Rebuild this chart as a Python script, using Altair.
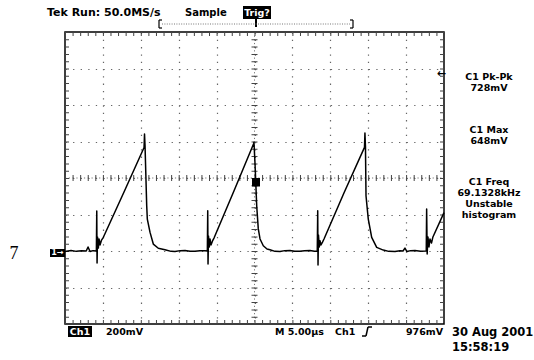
import altair as alt
import pandas as pd

# ---- waveform (time in microseconds, voltage in mV relative to ground marker) ----
t_us = [
    -25.0, -24.2, -23.5, -22.8, -22.2, -21.96, -21.7, -21.3, -20.86,
    -20.81, -20.77, -20.71, -20.60, -20.51, -20.38, -20.18, -19.94,
    -17.2, -14.57, -14.51, -14.44, -14.22, -14.14, -13.78, -13.35, -12.69, -11.81,
    -11.0, -10.49, -9.8, -9.17, -8.5, -7.85, -7.2, -6.53, -6.22,
    -6.17, -6.13, -6.07, -5.96, -5.87, -5.74, -5.54, -5.34,
    -2.7, -0.13, -0.07, 0.07, 0.16, 0.29, 0.50, 0.73, 1.16, 1.65, 2.04,
    2.7, 3.36, 4.0, 4.68, 5.3, 6.0, 6.6, 7.32, 7.9, 8.28,
    8.34, 8.38, 8.44, 8.55, 8.64, 8.77, 8.97, 9.17,
    11.8, 14.51, 14.57, 14.64, 14.71, 15.01, 15.46, 16.12, 16.99,
    17.7, 18.53, 19.2, 19.59, 19.85, 20.11, 20.6, 21.17, 21.9, 22.66,
    22.71, 22.78, 22.88, 23.02, 23.15, 23.35, 23.54, 25.0,
]
v_mv = [
    -3, 3, -2, 2, 0, 22, -3, 2, 0,
    219, -66, 77, 16, 66, 33, 60, 75,
    325, 567, 641, 575, 248, 175, 102, 38, 15, 7,
    -2, -3, 2, 3, -1, -2, 2, 1, 0,
    221, -71, 82, 22, 66, 33, 55, 71,
    330, 586, 596, 477, 384, 248, 121, 66, 29, 11, 7,
    -2, -3, 2, 3, -1, -2, 1, 3, -1, 0,
    221, -77, 88, 22, 56, 33, 49, 66,
    318, 568, 647, 570, 303, 175, 75, 20, 5,
    -2, -3, 1, 0, 16, -3, 2, 3, -1, 0,
    230, -16, 77, 22, 66, 44, 77, 210,
]

grid_t = [-20, -15, -10, -5, 0, 5, 10, 15, 20]
grid_v = [-200, 0, 200, 400, 600, 800, 1000]

header_run = "Tek Run: 50.0MS/s"
header_mode = "Sample"
header_trig = "Trig?"
meas_lines = ["C1 Pk-Pk", "728mV", "C1 Max", "648mV", "C1 Freq", "69.1328kHz", "Unstable", "histogram"]
foot_ch = "Ch1"
foot_scale = "200mV"
foot_time = "M 5.00µs"
foot_src = "Ch1"
foot_level = "976mV"
foot_date = "30 Aug 2001"
foot_clock = "15:58:19"
side_label = "7"
ground_label = "1→"
level_arrow = "←"

# ---- layout ----
W, H = 379, 292
OX, OY = 65, 32
FONT = "DejaVu Sans"
one = pd.DataFrame({"k": [0]})


def px(x):
    return x - OX


def py(y):
    return y - OY


def label(text, x, y, size=11, weight="bold", align="left", color="black", font=FONT):
    return alt.Chart(pd.DataFrame({"label": [text]})).mark_text(
        align=align, baseline="middle", fontSize=size, fontWeight=weight,
        font=font, color=color
    ).encode(x=alt.value(px(x)), y=alt.value(py(y)), text="label:N")


def box(x1, y1, x2, y2, color="black"):
    return alt.Chart(one).mark_rect(color=color).encode(
        x=alt.value(px(x1)), x2=alt.value(px(x2)),
        y=alt.value(py(y1)), y2=alt.value(py(y2)))


def seg(x1, y1, x2, y2, color="black", width=1.0, dash=None):
    kw = dict(color=color, strokeWidth=width)
    if dash is not None:
        kw["strokeDash"] = dash
    return alt.Chart(one).mark_rule(**kw).encode(
        x=alt.value(px(x1)), x2=alt.value(px(x2)),
        y=alt.value(py(y1)), y2=alt.value(py(y2)))


trace = alt.Chart(pd.DataFrame({"t": t_us, "v": v_mv})).mark_line(
    color="black", strokeWidth=1.5, strokeJoin="round"
).encode(
    x=alt.X("t:Q", scale=alt.Scale(domain=[-25, 25], nice=False, zero=False),
            axis=alt.Axis(values=grid_t, grid=True, gridDash=[1.3, 6.0], gridColor="#666",
                          gridWidth=1.2, labels=False, ticks=False, domain=False, title=None)),
    y=alt.Y("v:Q", scale=alt.Scale(domain=[-400, 1200], nice=False, zero=False),
            axis=alt.Axis(values=grid_v, grid=True, gridDash=[1.3, 6.28], gridColor="#666",
                          gridWidth=1.2, labels=False, ticks=False, domain=False, title=None)),
)

cx = OX + W / 2
cy = OY + H / 2
layers = [
    # center lines (finer dotted) and their minor ticks
    seg(cx, OY, cx, OY + H, color="#777", width=1, dash=[1.2, 2.45]),
    seg(OX, cy, OX + W, cy, color="#777", width=1, dash=[1.2, 2.59]),
    seg(cx, OY, cx, OY + H, color="#444", width=6, dash=[1, 6.3]),
    seg(OX, cy, OX + W, cy, color="#444", width=6, dash=[1, 6.58]),
    # frame minor ticks
    seg(OX + 2, OY, OX + 2, OY + H, color="#444", width=4, dash=[1, 6.3]),
    seg(OX + W - 2, OY, OX + W - 2, OY + H, color="#444", width=4, dash=[1, 6.3]),
    seg(OX, OY + 2, OX + W, OY + 2, color="#444", width=4, dash=[1, 6.58]),
    seg(OX, OY + H - 2, OX + W, OY + H - 2, color="#444", width=4, dash=[1, 6.58]),
    trace,
    # trigger point marker
    box(252, 178, 260, 186.5),
    # header
    label(header_run, 47, 12.5, size=11),
    label(header_mode, 185, 12.5, size=10),
    box(243, 6, 271, 19),
    label(header_trig, 257, 12.8, size=9.5, align="center", color="white"),
    seg(256, 19, 256, 27, width=2),
    # record-position bracket
    seg(162, 24, 350, 24, color="#777", width=1, dash=[1, 1.4]),
    seg(159, 20, 159, 28, width=1.2),
    seg(159, 20, 162, 20, width=1.2),
    seg(159, 28, 162, 28, width=1.2),
    seg(353, 20, 353, 28, width=1.2),
    seg(350, 20, 353, 20, width=1.2),
    seg(350, 28, 353, 28, width=1.2),
    # level arrow at right edge of graticule
    label(level_arrow, 446, 74, size=11, align="right"),
    # ground marker and side label
    box(50, 249, 65, 257),
    label(ground_label, 57.5, 253, size=8, align="center", color="white"),
    label(side_label, 14, 254, size=18, weight="normal", align="center", font="Liberation Serif"),
    # footer
    box(68, 326, 92, 337),
    label(foot_ch, 80, 331.5, size=9.5, align="center", color="white"),
    label(foot_scale, 106, 331.5, size=9.5),
    label(foot_time, 275, 331.5, size=9.5),
    label(foot_src, 335, 331.5, size=9.5),
    seg(362, 336, 366, 336, width=1.5),
    seg(366, 336, 368, 327, width=1.5),
    seg(368, 327, 372, 327, width=1.5),
    label(foot_level, 443, 331.5, size=9.5, align="right"),
    label(foot_date, 452, 333, size=11.5),
    label(foot_clock, 452, 348, size=11.5),
]

meas_y = [77, 88, 130, 141, 182, 193, 204, 215]
for txt, yy in zip(meas_lines, meas_y):
    layers.append(label(txt, 489, yy, size=9.5, align="center"))

chart = alt.layer(*layers).properties(
    width=W, height=H,
    padding={"left": OX, "top": OY, "right": 534 - OX - W, "bottom": 360 - OY - H},
    autosize="none",
    background="white",
).configure_view(stroke="black", strokeWidth=1.5)

chart.save("out.html", embed_options={"renderer": "svg", "actions": False})
